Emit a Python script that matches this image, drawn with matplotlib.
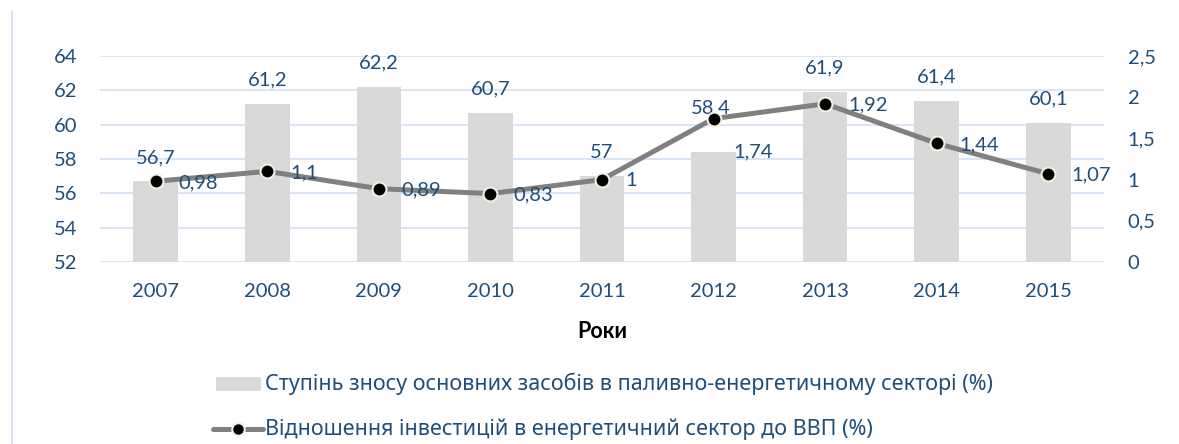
import matplotlib
matplotlib.use("Agg")
import matplotlib.pyplot as plt
from matplotlib.patches import Rectangle
from matplotlib.lines import Line2D

years = ["2007", "2008", "2009", "2010", "2011", "2012", "2013", "2014", "2015"]
wear = [56.7, 61.2, 62.2, 60.7, 57.0, 58.4, 61.9, 61.4, 60.1]
invest = [0.98, 1.10, 0.89, 0.83, 1.00, 1.74, 1.92, 1.44, 1.07]
wear_labels = ["56,7", "61,2", "62,2", "60,7", "57", "58,4", "61,9", "61,4", "60,1"]
invest_labels = ["0,98", "1,1", "0,89", "0,83", "1", "1,74", "1,92", "1,44", "1,07"]
left_ticks = [52, 54, 56, 58, 60, 62, 64]
right_ticks = [0, 0.5, 1, 1.5, 2, 2.5]
right_tick_labels = ["0", "0,5", "1", "1,5", "2", "2,5"]
bar_name = "Ступінь зносу основних засобів в паливно-енергетичному секторі (%)"
line_name = "Відношення інвестицій в енергетичний сектор до ВВП (%)"
xlabel = "Роки"

# manually moved data labels (offsets in points), as in the reference
bar_label_offsets = {5: (-2, 26)}
line_label_offsets = {5: (14.5, -24)}

plt.rcParams['font.family'] = ['Lato', 'DejaVu Sans']
TXT = "#1F4E79"
GRID = "#D6E2F3"
BAR = "#D9D9D9"
LINE = "#808080"
MEDGE = "#F2F0E1"
FS = 14.5

W, H = 1179, 444
fig = plt.figure(figsize=(W/100, H/100), dpi=100)
ax = fig.add_axes([100/W, 1-262/H, 1004/W, (262-56)/H])
x = list(range(len(years)))
ax.bar(x, wear, width=0.4, color=BAR, zorder=2)
ax.set_ylim(52, 64)
ax.set_xlim(-0.5, len(years)-0.5)
ax.set_yticks(left_ticks)
ax.set_yticklabels([str(t) for t in left_ticks])
ax.set_xticks(x)
ax.set_xticklabels(years)
ax.grid(axis='y', color=GRID, lw=1.3, zorder=0)
ax.set_axisbelow(True)
for s in ax.spines.values():
    s.set_visible(False)
ax.tick_params(axis='both', length=0, labelsize=FS, labelcolor=TXT)
ax.tick_params(axis='y', pad=16.5)
ax.tick_params(axis='x', pad=15)
for i, (xi, v, lab) in enumerate(zip(x, wear, wear_labels)):
    off = bar_label_offsets.get(i, (0, 11))
    ax.annotate(lab, (xi, v), xytext=off, textcoords='offset points',
                ha='center', va='bottom', fontsize=FS, color=TXT, zorder=5)

ax2 = ax.twinx()
ax2.set_ylim(0, 2.5)
ax2.set_yticks(right_ticks)
ax2.set_yticklabels(right_tick_labels)
for s in ax2.spines.values():
    s.set_visible(False)
ax2.tick_params(axis='y', length=0, labelsize=FS, labelcolor=TXT, pad=17)
ax2.plot(x, invest, color=LINE, lw=3.6, marker='o', markersize=10,
         markerfacecolor='black', markeredgecolor=MEDGE, markeredgewidth=1.5,
         zorder=3, solid_capstyle='round')
for i, (xi, v, lab) in enumerate(zip(x, invest, invest_labels)):
    off = line_label_offsets.get(i, (16.5, -1))
    ax2.annotate(lab, (xi, v), xytext=off, textcoords='offset points',
                 ha='left', va='center', fontsize=FS, color=TXT, zorder=5)

# x axis title
fig.text(602/W, 1-331/H, xlabel, ha='center', va='center', fontsize=15.5,
         fontweight='bold', color='black')

# left border line
fig.add_artist(Line2D([12/W, 12/W], [0, 1-12/H], color=GRID, lw=1.5))

# legend
LFS = 15.5
fig.add_artist(Rectangle((216/W, 1-391/H), 45/W, 14/H, facecolor=BAR,
                         edgecolor='none', transform=fig.transFigure))
fig.text(265/W, 1-384/H, bar_name, ha='left', va='center', fontsize=LFS,
         color=TXT, family=['Noto Sans', 'DejaVu Sans'])
fig.add_artist(Line2D([213/W, 263/W], [1-429/H, 1-429/H], color=LINE, lw=3.6,
                      solid_capstyle='round'))
fig.add_artist(Line2D([238/W], [1-429/H], marker='o', markersize=9,
                      markerfacecolor='black', markeredgecolor=MEDGE,
                      markeredgewidth=1.5, linestyle='none'))
fig.text(265/W, 1-429/H, line_name, ha='left', va='center', fontsize=LFS,
         color=TXT, family=['Noto Sans', 'DejaVu Sans'])

fig.savefig("out.png", dpi=100)
